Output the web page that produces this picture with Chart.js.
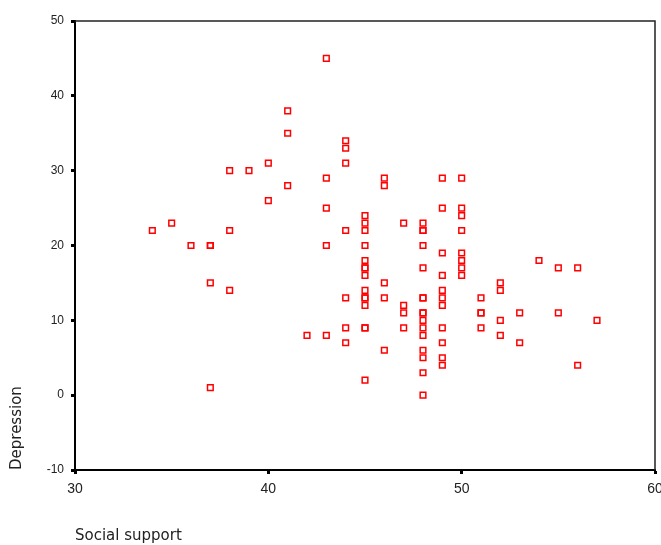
<!DOCTYPE html>
<html>
<head>
<meta charset="utf-8">
<script src="https://cdn.jsdelivr.net/npm/chart.js@4.4.1/dist/chart.umd.min.js"></script>
<style>
  html, body { margin: 0; padding: 0; background: #fff; }
  #wrap { width: 661px; height: 545px; position: relative; }
</style>
</head>
<body>
<div id="wrap"><canvas id="chart"></canvas></div>
<script>
// social support score of each respondent
const socialSupport = [
  34, 35, 36,
  37, 37, 37, 37,
  38, 38, 38,
  39,
  40, 40,
  41, 41, 41,
  42,
  43, 43, 43, 43, 43,
  44, 44, 44, 44, 44, 44, 44,
  45, 45, 45, 45, 45, 45, 45, 45, 45, 45, 45, 45, 45, 45, 45,
  46, 46, 46, 46, 46,
  47, 47, 47, 47,
  48, 48, 48, 48, 48, 48, 48, 48, 48, 48, 48, 48, 48, 48, 48, 48,
  49, 49, 49, 49, 49, 49, 49, 49, 49, 49, 49,
  50, 50, 50, 50, 50, 50, 50, 50,
  51, 51, 51, 51,
  52, 52, 52, 52,
  53, 53,
  54,
  55, 55,
  56, 56,
  57
];
// depression score, same order
const depression = [
  22, 23, 20,
  20, 20, 15, 1,
  30, 22, 14,
  30,
  31, 26,
  38, 35, 28,
  8,
  45, 29, 25, 20, 8,
  34, 33, 31, 22, 13, 9, 7,
  24, 23, 22, 20, 18, 17, 17, 16, 14, 13, 13, 12, 9, 9, 2,
  29, 28, 15, 13, 6,
  23, 12, 11, 9,
  23, 22, 22, 20, 17, 13, 13, 11, 11, 10, 9, 8, 6, 5, 3, 0,
  29, 25, 19, 16, 14, 13, 12, 9, 7, 5, 4,
  29, 25, 24, 22, 19, 18, 17, 16,
  13, 11, 11, 9,
  15, 14, 10, 8,
  11, 7,
  18,
  17, 11,
  17, 4,
  10
];
const xTicks = [30, 40, 50, 60];
const yTicks = [-10, 0, 10, 20, 30, 40, 50];

const points = socialSupport.map((s, i) => ({ x: s, y: depression[i] }));

// thin frame on top/right like the SPSS box
const framePlugin = {
  id: 'frame',
  afterDraw(chart) {
    const a = chart.chartArea;
    const ctx = chart.ctx;
    ctx.save();
    ctx.strokeStyle = '#222';
    ctx.lineWidth = 1.5;
    ctx.beginPath();
    ctx.moveTo(a.left, a.top);
    ctx.lineTo(a.right, a.top);
    ctx.lineTo(a.right, a.bottom);
    ctx.stroke();
    ctx.restore();
  }
};

const titleFont = { family: 'DejaVu Sans', size: 15 };

new Chart(document.getElementById('chart').getContext('2d'), {
  type: 'scatter',
  data: {
    datasets: [{
      label: 'Depression',
      data: points,
      pointStyle: 'rect',
      pointRadius: 4,
      pointHoverRadius: 4,
      borderColor: '#ff0000',
      backgroundColor: 'rgba(0,0,0,0)',
      borderWidth: 1.5
    }]
  },
  options: {
    responsive: true,
    maintainAspectRatio: false,
    animation: false,
    layout: { padding: { top: 21, right: 6, bottom: 0, left: 0 } },
    plugins: { legend: { display: false }, tooltip: { enabled: false } },
    scales: {
      x: {
        type: 'linear',
        min: 30,
        max: 60,
        afterBuildTicks: (scale) => { scale.ticks = xTicks.map(v => ({ value: v })); },
        afterFit: (scale) => { scale.height = 75; scale.paddingLeft = 0; scale.paddingRight = 0; },
        ticks: { color: '#222', font: { family: 'Liberation Sans', size: 14 }, padding: 7, maxRotation: 0 },
        grid: { drawOnChartArea: false, tickLength: 4, tickWidth: 3, tickColor: '#000' },
        border: { color: '#000', width: 2 },
        title: {
          display: true,
          text: 'Social support',
          align: 'start',
          color: '#222',
          font: titleFont,
          padding: { top: 0, bottom: 0 }
        }
      },
      y: {
        type: 'linear',
        min: -10,
        max: 50,
        afterBuildTicks: (scale) => { scale.ticks = yTicks.map(v => ({ value: v })); },
        afterFit: (scale) => { scale.width = 75; },
        ticks: { color: '#222', font: { family: 'Liberation Sans', size: 12 }, padding: 7 },
        grid: { drawOnChartArea: false, tickLength: 4, tickWidth: 3, tickColor: '#000' },
        border: { color: '#000', width: 2 },
        title: {
          display: true,
          text: 'Depression',
          align: 'start',
          color: '#222',
          font: titleFont,
          padding: { top: 8, bottom: 0 }
        }
      }
    }
  },
  plugins: [framePlugin]
});
</script>
</body>
</html>
